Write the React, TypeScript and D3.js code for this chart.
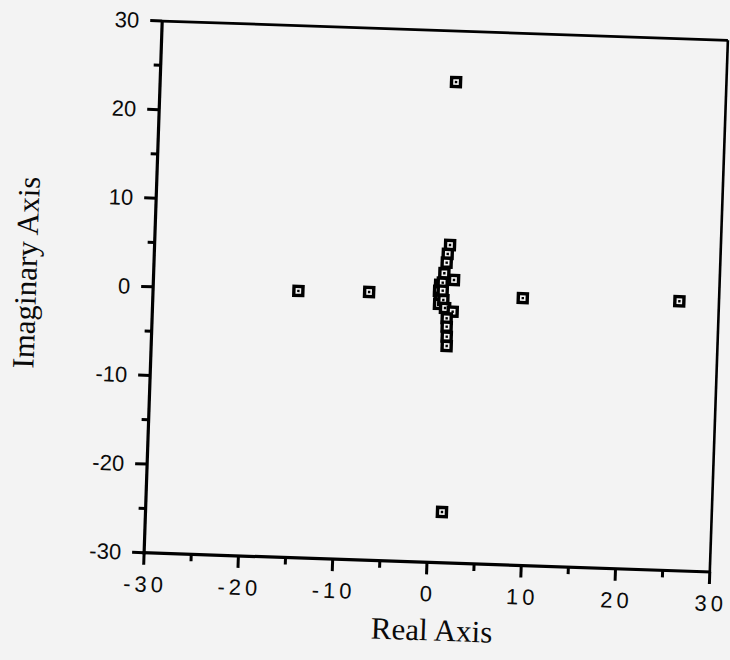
import React from "react";
import * as d3 from "d3";

const poleRe = [1.35, 1.41, -14.6, -7.1, 9.2, 25.8, 0.38, 0.3, 0.43, 0.35, 1.30, 1.09, 1.01, 0.80, 1.85, 0.66, 0.69, 0.79, 1.0, 1.82, 1.21, 1.24, 1.28, 1.31];
const poleIm = [24.25, -24.27, 0.1, 0.25, 0.15, 0.4, 1.31, 0.63, -0.15, -0.83, 5.86, 4.84, 3.85, 2.65, 1.93, 1.58, 0.68, -0.37, -1.26, -1.65, -2.42, -3.36, -4.49, -5.54];
const xTicks = [-30, -20, -10, 0, 10, 20, 30];
const yTicks = [-30, -20, -10, 0, 10, 20, 30];
const xMinor = [-25, -15, -5, 5, 15, 25];
const yMinor = [-25, -15, -5, 5, 15, 25];
const xTitle = "Real Axis";
const yTitle = "Imaginary Axis";

const W = 730, H = 660;
const CX = 436, CY = 296.5, HW = 283, HH = 266;
const left = CX - HW, right = CX + HW, top = CY - HH, bottom = CY + HH;
const ANGLE = 1.95;
const BG = "#f3f3f3";

export default function App() {
  const x = d3.scaleLinear().domain([-30, 30]).range([left, right]);
  const y = d3.scaleLinear().domain([-30, 30]).range([bottom, top]);
  const pts = poleRe.map((r, i) => ({ r, im: poleIm[i] }));
  const sans = "'Liberation Sans', Arial, Helvetica, sans-serif";
  const serif = "'Liberation Serif', 'Times New Roman', serif";
  return (
    <svg width={W} height={H} style={{ position: "absolute", left: 0, top: 0, background: BG }}>
      <rect x={0} y={0} width={W} height={H} fill={BG} />
      <g transform={`rotate(${ANGLE}, ${CX}, ${CY})`}>
        {/* frame */}
        <line x1={left} y1={top} x2={right} y2={top} stroke="#000" strokeWidth={2.8} />
        <line x1={right} y1={top} x2={right} y2={bottom} stroke="#000" strokeWidth={2.6} />
        <line x1={left} y1={top - 1} x2={left} y2={bottom + 1.5} stroke="#000" strokeWidth={3.2} />
        <line x1={left - 1.5} y1={bottom} x2={right + 1.3} y2={bottom} stroke="#000" strokeWidth={3.2} />
        {/* y ticks */}
        {yTicks.map((t) => (
          <line key={"yt" + t} x1={left - 12} x2={left} y1={y(t)} y2={y(t)} stroke="#000" strokeWidth={3} />
        ))}
        {yMinor.map((t) => (
          <line key={"ym" + t} x1={left - 7} x2={left} y1={y(t)} y2={y(t)} stroke="#000" strokeWidth={3} />
        ))}
        {xTicks.map((t) => (
          <line key={"xt" + t} x1={x(t)} x2={x(t)} y1={bottom} y2={bottom + 12} stroke="#000" strokeWidth={3} />
        ))}
        {xMinor.map((t) => (
          <line key={"xm" + t} x1={x(t)} x2={x(t)} y1={bottom} y2={bottom + 7} stroke="#000" strokeWidth={3} />
        ))}
        {/* y tick labels */}
        {yTicks.map((t) => (
          <text key={"yl" + t} x={left - 23} y={y(t)} textAnchor="end" dominantBaseline="central" fontFamily={sans} fontSize={22} fill="#0a0a0a">
            {String(t)}
          </text>
        ))}
        {/* x tick labels */}
        {xTicks.map((t) => (
          <text key={"xl" + t} x={x(t) + 2} y={bottom + 39} textAnchor="middle" fontFamily={sans} fontSize={22} letterSpacing={4} fill="#0a0a0a">
            {String(t)}
          </text>
        ))}
        {/* markers */}
        {pts.map((p, i) => (
          <g key={"p" + i} transform={`translate(${x(p.r)}, ${y(p.im)})`}>
            <rect x={-6.2} y={-6.2} width={12.4} height={12.4} fill="#000" />
            <rect x={-2.8} y={-2.8} width={5.6} height={5.6} fill={BG} />
            <rect x={-1.2} y={-1.2} width={2.4} height={2.4} fill="#000" />
          </g>
        ))}
        {/* titles */}
        <text x={(left + right) / 2 + 7} y={bottom + 78} textAnchor="middle" fontFamily={serif} fontSize={31} fill="#0a0a0a">
          {xTitle}
        </text>
        <text transform={`translate(${left - 117}, ${(top + bottom) / 2 - 10}) rotate(-90)`} textAnchor="middle" fontFamily={serif} fontSize={31} fill="#0a0a0a">
          {yTitle}
        </text>
      </g>
    </svg>
  );
}
